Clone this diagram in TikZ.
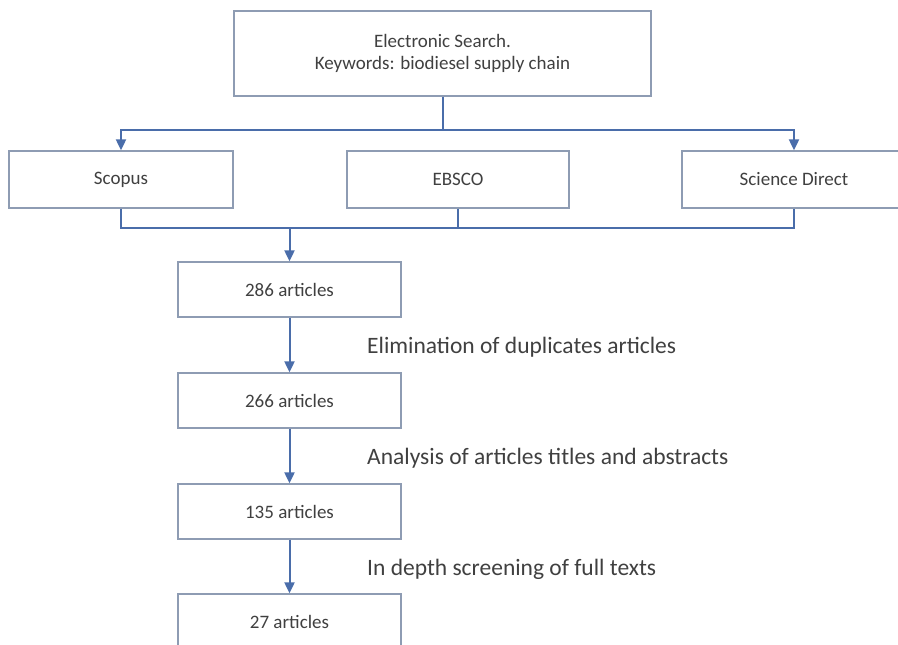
\documentclass[tikz,border=0pt]{standalone}
\usepackage{fontspec}
\setmainfont{Carlito}
\usetikzlibrary{arrows.meta}
\definecolor{boxline}{HTML}{8E9CB3}
\definecolor{connc}{HTML}{4A6DAA}
\definecolor{txt}{HTML}{404040}
\begin{document}
\begin{tikzpicture}[x=1pt,y=-1pt,
  box/.style={draw=boxline, line width=1.3pt, fill=white, text=txt,
    font=\fontsize{19}{22}\selectfont, inner sep=0pt, align=center},
  link/.style={draw=connc, line width=2pt},
  arr/.style={link, -{Triangle[width=10pt,length=11pt]}},
  lab/.style={text=txt, font=\fontsize{23.5}{28}\selectfont, anchor=base west, inner sep=0pt}]
\useasboundingbox (0,0) rectangle (898,645);
\node[box, minimum width=417pt, minimum height=85pt] (top) at (442.5,53.5)
  {Electronic Search.\\Keywords: biodiesel supply chain};
\node[box, minimum width=224pt, minimum height=57pt] (scopus) at (121,179.5) {Scopus};
\node[box, minimum width=222pt, minimum height=57pt] (ebsco) at (458,179.5) {EBSCO};
\node[box, minimum width=224pt, minimum height=57pt] (sd) at (794,179.5) {Science Direct};
\node[box, minimum width=223pt, minimum height=55pt] (a286) at (289.5,289.5) {286 articles};
\node[box, minimum width=223pt, minimum height=55pt] (a266) at (289.5,400.5) {266 articles};
\node[box, minimum width=223pt, minimum height=55pt] (a135) at (289.5,511.5) {135 articles};
\node[box, minimum width=223pt, minimum height=55pt] (a27) at (289.5,621.5) {27 articles};
\coordinate (j1) at (442.5,130);
\coordinate (j2) at (289.5,228);
\draw[link] (top.south) -- (j1);
\draw[arr] (j1) -| (scopus.north);
\draw[arr] (j1) -| (sd.north);
\draw[link] (scopus.south) |- (sd.south |- j2) -- (sd.south);
\draw[link] (ebsco.south) -- (ebsco.south |- j2);
\draw[arr] (j2) -- (a286.north);
\draw[arr] (a286.south) -- (a266.north);
\draw[arr] (a266.south) -- (a135.north);
\draw[arr] (a135.south) -- (a27.north);
\node[lab] (l1) at (367,353) {Elimination of duplicates articles};
\node[lab] (l2) at (367,464) {Analysis of articles titles and abstracts};
\node[lab] (l3) at (367,575) {In depth screening of full texts};
\end{tikzpicture}
\end{document}
